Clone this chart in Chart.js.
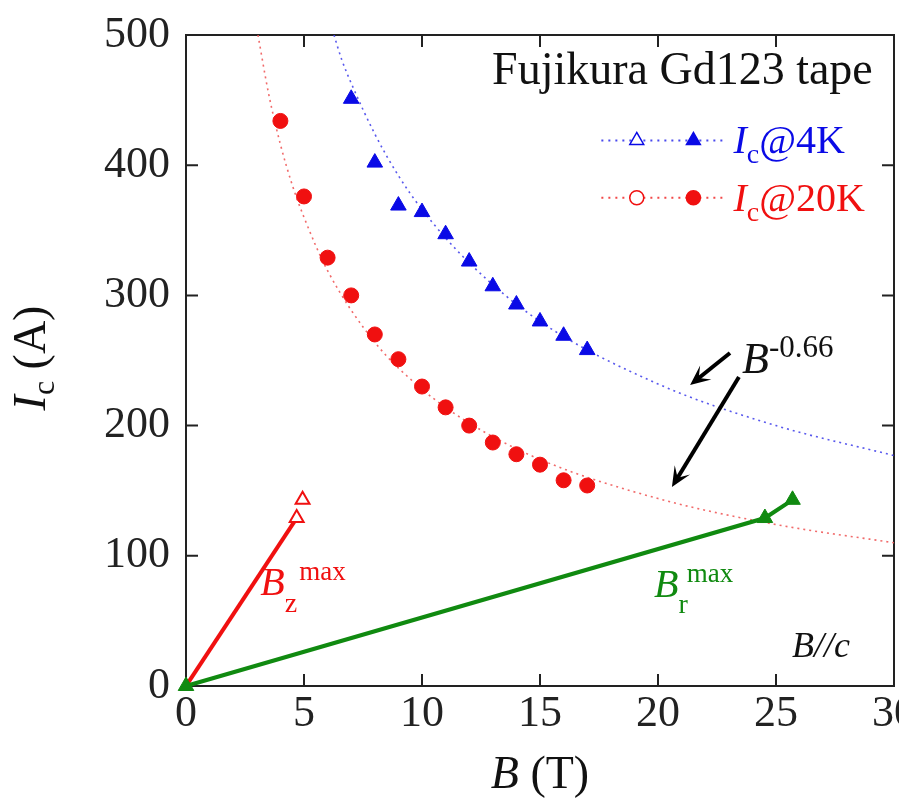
<!DOCTYPE html>
<html>
<head>
<meta charset="utf-8">
<script src="https://cdn.jsdelivr.net/npm/chart.js@4/dist/chart.umd.min.js"></script>
<style>
  html, body { margin: 0; padding: 0; background: #fff; }
  #wrap { width: 899px; height: 802px; }
</style>
</head>
<body>
<div id="wrap"><canvas id="chart" width="899" height="802"></canvas></div>
<script>
// measured points, Ic vs B
const field4K = [7, 8, 9, 10, 11, 12, 13, 14, 15, 16, 17];
const ic4K = [451, 402, 369, 364, 347, 326, 307, 293, 280, 269, 258];
const field20K = [4, 5, 6, 7, 8, 9, 10, 11, 12, 13, 14, 15, 16, 17];
const ic20K = [434, 376, 329, 300, 270, 251, 230, 214, 200, 187, 178, 170, 158, 154];

// dotted B^-0.66 curves
const fitField4K = [6.27, 6.6, 7, 8, 9, 10, 12, 15, 20, 25, 30];
const fitIc4K = [500, 481, 463, 424, 392, 366, 325, 280, 232, 200, 177];
const fitField20K = [3.05, 3.5, 4, 4.5, 5, 6, 8, 10, 12, 15, 20, 25, 30];
const fitIc20K = [500, 455, 416, 385, 360, 319, 264, 228, 202, 174, 144, 124, 110];

// load lines
const bzLineField = [0, 4.69];
const bzLineIc = [0, 129];
const bzMarkField = [4.69, 4.94];
const bzMarkIc = [129, 143];
const brLineField = [0, 24.53, 25.7];
const brLineIc = [0, 129, 143];

// axes
const xTicks = [0, 5, 10, 15, 20, 25, 30];
const yTicks = [0, 100, 200, 300, 400, 500];

const SERIF = '"Liberation Serif", "DejaVu Serif", serif';
const BLUE = '#0a0ae6';
const RED = '#f01010';
const GREEN = '#108a10';

function zip(xs, ys) {
  return xs.map((v, i) => ({ x: v, y: ys[i] }));
}

// draw a run of text pieces (italic, sub, sup) starting at x
function richText(ctx, x, y, parts, align) {
  let total = 0;
  parts.forEach(p => { ctx.font = p.font; total += ctx.measureText(p.t).width + (p.gap || 0); });
  let cx = x;
  if (align === 'center') cx = x - total / 2;
  if (align === 'right') cx = x - total;
  ctx.textBaseline = 'alphabetic';
  ctx.textAlign = 'left';
  parts.forEach(p => {
    ctx.font = p.font;
    ctx.fillStyle = p.color || '#111';
    ctx.fillText(p.t, cx, y + (p.dy || 0));
    cx += ctx.measureText(p.t).width + (p.gap || 0);
  });
}

function marker(ctx, kind, x, y, r, color, filled) {
  ctx.beginPath();
  if (kind === 'triangle') {
    ctx.moveTo(x, y - r);
    ctx.lineTo(x + r * 0.866, y + r * 0.5);
    ctx.lineTo(x - r * 0.866, y + r * 0.5);
    ctx.closePath();
  } else {
    ctx.arc(x, y, r, 0, Math.PI * 2);
  }
  ctx.fillStyle = filled ? color : '#fff';
  ctx.fill();
  ctx.strokeStyle = color;
  ctx.lineWidth = 1.5;
  ctx.stroke();
}

function arrow(ctx, x1, y1, x2, y2) {
  const ang = Math.atan2(y2 - y1, x2 - x1);
  const len = 22;
  ctx.strokeStyle = '#000';
  ctx.fillStyle = '#000';
  ctx.lineWidth = 4;
  ctx.beginPath();
  ctx.moveTo(x1, y1);
  ctx.lineTo(x2 - Math.cos(ang) * 8, y2 - Math.sin(ang) * 8);
  ctx.stroke();
  ctx.beginPath();
  ctx.moveTo(x2, y2);
  ctx.lineTo(x2 - len * Math.cos(ang - 0.42), y2 - len * Math.sin(ang - 0.42));
  ctx.lineTo(x2 - len * 0.5 * Math.cos(ang), y2 - len * 0.5 * Math.sin(ang));
  ctx.lineTo(x2 - len * Math.cos(ang + 0.42), y2 - len * Math.sin(ang + 0.42));
  ctx.closePath();
  ctx.fill();
}

const decor = {
  id: 'decor',
  beforeDatasetsDraw(chart) {
    const { ctx, chartArea: a, scales: { x, y } } = chart;
    ctx.save();
    ctx.strokeStyle = '#222';
    ctx.lineWidth = 2;
    ctx.strokeRect(a.left, a.top, a.right - a.left, a.bottom - a.top);
    ctx.beginPath();
    xTicks.forEach(v => {
      const px = x.getPixelForValue(v);
      ctx.moveTo(px, a.bottom); ctx.lineTo(px, a.bottom - 12);
      ctx.moveTo(px, a.top); ctx.lineTo(px, a.top + 12);
    });
    yTicks.forEach(v => {
      const py = y.getPixelForValue(v);
      ctx.moveTo(a.left, py); ctx.lineTo(a.left + 12, py);
      ctx.moveTo(a.right, py); ctx.lineTo(a.right - 12, py);
    });
    ctx.stroke();
    ctx.restore();
  },
  afterDatasetsDraw(chart) {
    const { ctx, scales: { x, y } } = chart;
    const X = v => x.getPixelForValue(v);
    const Y = v => y.getPixelForValue(v);
    ctx.save();

    // title
    richText(ctx, X(29.1), Y(462), [{ t: 'Fujikura Gd123 tape', font: '46px ' + SERIF, color: '#111' }], 'right');

    // legend
    const rows = [
      { yv: 419, kind: 'triangle', color: BLUE, dash: 'rgba(40,40,235,0.85)', label: '@4K' },
      { yv: 375, kind: 'circle', color: RED, dash: 'rgba(240,40,40,0.85)', label: '@20K' }
    ];
    rows.forEach(r => {
      const py = Y(r.yv);
      ctx.save();
      ctx.strokeStyle = r.dash;
      ctx.lineWidth = 2;
      ctx.setLineDash([2, 5]);
      ctx.beginPath();
      ctx.moveTo(X(17.6), py); ctx.lineTo(X(22.75), py);
      ctx.stroke();
      ctx.restore();
      marker(ctx, r.kind, X(19.1), py, r.kind === 'triangle' ? 8 : 7, r.color, false);
      marker(ctx, r.kind, X(21.5), py, r.kind === 'triangle' ? 8 : 7, r.color, true);
      richText(ctx, X(23.2), py + 13, [
        { t: 'I', font: 'italic 40px ' + SERIF, color: r.color },
        { t: 'c', font: '28px ' + SERIF, color: r.color, dy: 10 },
        { t: r.label, font: '40px ' + SERIF, color: r.color }
      ], 'left');
    });

    // annotations
    richText(ctx, X(3.15), Y(70), [
      { t: 'B', font: 'italic 40px ' + SERIF, color: RED },
      { t: 'z', font: '28px ' + SERIF, color: RED, dy: 17, gap: 2 },
      { t: 'max', font: '27px ' + SERIF, color: RED, dy: -15 }
    ], 'left');
    richText(ctx, X(19.83), Y(68.4), [
      { t: 'B', font: 'italic 40px ' + SERIF, color: GREEN },
      { t: 'r', font: '28px ' + SERIF, color: GREEN, dy: 16, gap: -1 },
      { t: 'max', font: '27px ' + SERIF, color: GREEN, dy: -15 }
    ], 'left');
    richText(ctx, X(25.68), Y(22.3), [{ t: 'B//c', font: 'italic 36px ' + SERIF, color: '#111' }], 'left');
    richText(ctx, X(23.56), Y(240.4), [
      { t: 'B', font: 'italic 44px ' + SERIF, color: '#111' },
      { t: '-0.66', font: '31px ' + SERIF, color: '#111', dy: -16 }
    ], 'left');
    arrow(ctx, X(23.05), Y(255.8), X(21.36), Y(231.2));
    arrow(ctx, X(23.43), Y(237.3), X(20.59), Y(152.8));
    ctx.restore();
  },
  afterDraw(chart) {
    const { ctx, chartArea: a } = chart;
    ctx.save();
    richText(ctx, (a.left + a.right) / 2, 788, [
      { t: 'B', font: 'italic 46px ' + SERIF, color: '#111' },
      { t: ' (T)', font: '46px ' + SERIF, color: '#111' }
    ], 'center');
    ctx.translate(45, 358);
    ctx.rotate(-Math.PI / 2);
    richText(ctx, 0, 0, [
      { t: 'I', font: 'italic 46px ' + SERIF, color: '#111' },
      { t: 'c', font: '32px ' + SERIF, color: '#111', dy: 9 },
      { t: ' (A)', font: '46px ' + SERIF, color: '#111' }
    ], 'center');
    ctx.restore();
  }
};

new Chart(document.getElementById('chart'), {
  type: 'scatter',
  data: {
    datasets: [
      {
        label: 'Ic@4K',
        data: zip(field4K, ic4K),
        pointStyle: 'triangle',
        pointRadius: 9,
        backgroundColor: BLUE,
        borderColor: BLUE,
        borderWidth: 1,
        order: 0
      },
      {
        label: 'Ic@20K',
        data: zip(field20K, ic20K),
        pointStyle: 'circle',
        pointRadius: 7.5,
        backgroundColor: RED,
        borderColor: RED,
        borderWidth: 1,
        order: 0
      },
      {
        label: 'Bz max markers',
        data: zip(bzMarkField, bzMarkIc),
        pointStyle: 'triangle',
        pointRadius: 8,
        backgroundColor: '#fff',
        borderColor: RED,
        borderWidth: 2,
        order: 0
      },
      {
        label: 'Br max',
        data: zip(brLineField, brLineIc),
        showLine: true,
        borderColor: GREEN,
        borderWidth: 4,
        pointStyle: 'triangle',
        pointRadius: 9,
        backgroundColor: GREEN,
        pointBorderWidth: 1,
        clip: false,
        order: 1
      },
      {
        label: 'Bz max',
        data: zip(bzLineField, bzLineIc),
        showLine: true,
        borderColor: RED,
        borderWidth: 4,
        pointRadius: 0,
        order: 2
      },
      {
        label: 'fit 4K',
        data: zip(fitField4K, fitIc4K),
        showLine: true,
        borderColor: 'rgba(70,70,235,0.9)',
        borderWidth: 1.6,
        borderDash: [2, 4],
        pointRadius: 0,
        cubicInterpolationMode: 'monotone',
        order: 3
      },
      {
        label: 'fit 20K',
        data: zip(fitField20K, fitIc20K),
        showLine: true,
        borderColor: 'rgba(240,90,90,0.9)',
        borderWidth: 1.6,
        borderDash: [2, 4],
        pointRadius: 0,
        cubicInterpolationMode: 'monotone',
        order: 3
      }
    ]
  },
  options: {
    responsive: false,
    animation: false,
    devicePixelRatio: 1,
    layout: { autoPadding: false, padding: { left: 0, right: 5, top: 35, bottom: 0 } },
    plugins: { legend: { display: false }, tooltip: { enabled: false } },
    scales: {
      x: {
        type: 'linear',
        min: 0,
        max: 30,
        afterBuildTicks: s => { s.ticks = xTicks.map(v => ({ value: v })); },
        ticks: { font: { family: SERIF, size: 44 }, color: '#222', padding: 2, maxRotation: 0 },
        grid: { display: false, drawTicks: false },
        border: { display: false },
        afterFit: s => { s.height = 116; s.paddingLeft = 0; s.paddingRight = 0; }
      },
      y: {
        type: 'linear',
        min: 0,
        max: 500,
        afterBuildTicks: s => { s.ticks = yTicks.map(v => ({ value: v })); },
        ticks: { font: { family: SERIF, size: 44 }, color: '#222', padding: 16 },
        grid: { display: false, drawTicks: false },
        border: { display: false },
        afterFit: s => { s.width = 186; s.paddingTop = 0; s.paddingBottom = 0; }
      }
    }
  },
  plugins: [decor]
});
</script>
</body>
</html>
